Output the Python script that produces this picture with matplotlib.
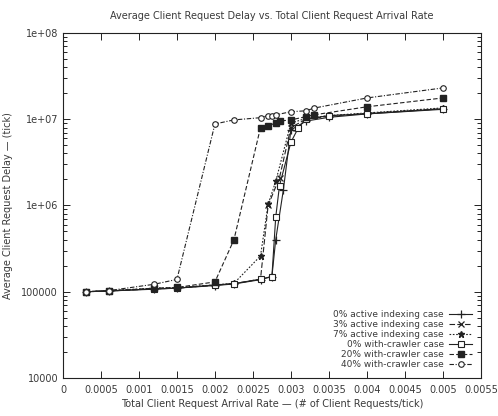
import numpy as np
import matplotlib
matplotlib.use("Agg")
import matplotlib.pyplot as plt
from matplotlib.ticker import FixedLocator, FuncFormatter, LogLocator, NullFormatter

# Arrival rate (x) and average delay (y) per series
x_active0 = [0.0003, 0.0006, 0.0012, 0.0015, 0.002, 0.00225, 0.0026, 0.00275,
             0.0028, 0.0029, 0.003, 0.0032, 0.0035, 0.004, 0.005]
y_active0 = [1.0e5, 1.02e5, 1.07e5, 1.1e5, 1.18e5, 1.23e5, 1.38e5, 1.5e5,
             4.0e5, 1.5e6, 7.5e6, 9.5e6, 1.05e7, 1.15e7, 1.3e7]

x_active3 = [0.0003, 0.0006, 0.0012, 0.0015, 0.002, 0.00225, 0.0026, 0.0027,
             0.00285, 0.003, 0.0032, 0.0035, 0.004, 0.005]
y_active3 = [1.0e5, 1.02e5, 1.08e5, 1.1e5, 1.19e5, 1.24e5, 1.4e5, 1.0e6,
             2.1e6, 8.0e6, 1.0e7, 1.08e7, 1.17e7, 1.32e7]

x_active7 = [0.0003, 0.0006, 0.0012, 0.0015, 0.002, 0.00225, 0.0026, 0.0027,
             0.0028, 0.003, 0.0032, 0.0035, 0.004, 0.005]
y_active7 = [1.0e5, 1.03e5, 1.1e5, 1.12e5, 1.2e5, 1.25e5, 2.6e5, 1.03e6,
             1.9e6, 9.0e6, 1.02e7, 1.1e7, 1.18e7, 1.35e7]

x_crawler0 = [0.0003, 0.0006, 0.0012, 0.0015, 0.002, 0.00225, 0.0026, 0.00275,
              0.0028, 0.00285, 0.003, 0.0031, 0.0032, 0.0035, 0.004, 0.005]
y_crawler0 = [1.0e5, 1.02e5, 1.08e5, 1.1e5, 1.2e5, 1.24e5, 1.4e5, 1.5e5,
              7.3e5, 1.7e6, 5.4e6, 8.0e6, 1.0e7, 1.1e7, 1.15e7, 1.32e7]

x_crawler20 = [0.0003, 0.0006, 0.0012, 0.0015, 0.002, 0.00225, 0.0026, 0.0027,
               0.0028, 0.00285, 0.003, 0.0032, 0.0033, 0.004, 0.005]
y_crawler20 = [1.0e5, 1.02e5, 1.1e5, 1.12e5, 1.3e5, 4.0e5, 8.0e6, 8.4e6,
               9.0e6, 9.5e6, 9.8e6, 1.07e7, 1.12e7, 1.39e7, 1.76e7]

x_crawler40 = [0.0003, 0.0006, 0.0012, 0.0015, 0.002, 0.00225, 0.0026, 0.0027,
               0.00275, 0.0028, 0.003, 0.0032, 0.0033, 0.004, 0.005]
y_crawler40 = [1.0e5, 1.03e5, 1.22e5, 1.39e5, 8.8e6, 9.8e6, 1.04e7, 1.1e7,
               1.1e7, 1.12e7, 1.22e7, 1.25e7, 1.34e7, 1.76e7, 2.3e7]

labels = ["0% active indexing case", "3% active indexing case",
          "7% active indexing case", "0% with-crawler case",
          "20% with-crawler case", "40% with-crawler case"]

x_ticks = [0, 0.0005, 0.001, 0.0015, 0.002, 0.0025, 0.003, 0.0035,
           0.004, 0.0045, 0.005, 0.0055]
y_ticks = [1e4, 1e5, 1e6, 1e7, 1e8]
y_tick_labels = ["10000", "100000", "1e+06", "1e+07", "1e+08"]

text_col = "#3a3a3a"
line_col = "#222222"

fig = plt.figure(figsize=(4.98, 4.16), dpi=100)
ax = fig.add_axes([0.1265, 0.0913, 0.839, 0.8297])

series = [
    (x_active0, y_active0, "-", dict(marker="+", ms=6, mew=0.9)),
    (x_active3, y_active3, (0, (5, 2)), dict(marker="x", ms=4, mew=0.9)),
    (x_active7, y_active7, (0, (1.5, 1.5)), dict(marker="*", ms=5)),
    (x_crawler0, y_crawler0, "-", dict(marker="s", ms=4, mfc="white", mew=0.8)),
    (x_crawler20, y_crawler20, (0, (4, 2)), dict(marker="s", ms=4)),
    (x_crawler40, y_crawler40, (0, (4, 1.5, 1, 1.5)),
     dict(marker="o", ms=4, mfc="white", mew=0.8)),
]

for (xs, ys, ls, mk), lab in zip(series, labels):
    ax.plot(xs, ys, linestyle=ls, color=line_col, lw=0.8, label=lab, **mk)

ax.set_yscale("log")
ax.set_xlim(0, 0.0055)
ax.set_ylim(1e4, 1e8)

ax.xaxis.set_major_locator(FixedLocator(x_ticks))
ax.xaxis.set_major_formatter(FuncFormatter(lambda v, p: "0" if v == 0 else f"{v:g}"))
ax.yaxis.set_major_locator(FixedLocator(y_ticks))
ax.yaxis.set_major_formatter(FuncFormatter(
    lambda v, p: y_tick_labels[y_ticks.index(v)] if v in y_ticks else ""))
ax.yaxis.set_minor_locator(LogLocator(base=10, subs=np.arange(2, 10)))
ax.yaxis.set_minor_formatter(NullFormatter())

ax.tick_params(which="both", direction="in", top=True, right=True,
               labelsize=7, labelcolor=text_col, color=line_col, width=0.7)
ax.tick_params(which="major", length=5)
ax.tick_params(which="minor", length=3)
ax.tick_params(axis="x", pad=5)
for s in ax.spines.values():
    s.set_linewidth(0.8)
    s.set_color(line_col)

ax.set_title("Average Client Request Delay vs. Total Client Request Arrival Rate",
             fontsize=7, color=text_col, pad=10)
ax.set_xlabel("Total Client Request Arrival Rate \u2014 (# of Client Requests/tick)",
              fontsize=7, color=text_col, labelpad=3)
ax.set_ylabel("Average Client Request Delay \u2014 (tick)",
              fontsize=7, color=text_col, labelpad=6)

ax.legend(loc="lower right", frameon=False, markerfirst=False, fontsize=6.5,
          handlelength=2.5, handletextpad=0.6, labelspacing=0.1,
          borderaxespad=0.6, labelcolor=text_col)

fig.savefig("out.png", dpi=100)
